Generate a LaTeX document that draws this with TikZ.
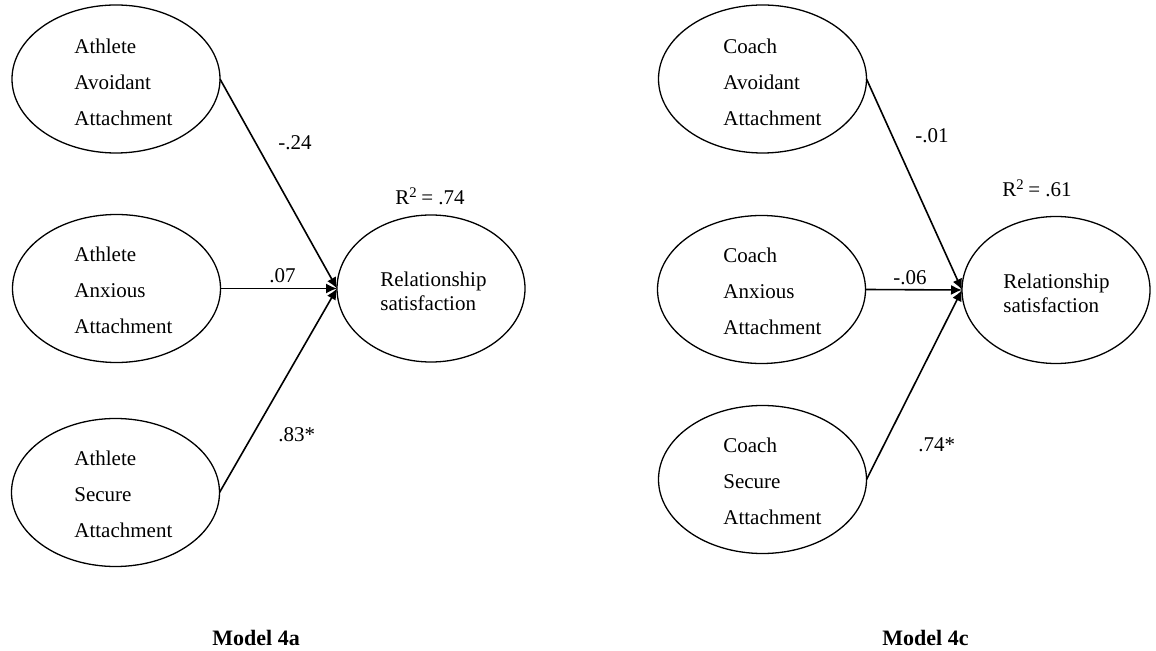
\documentclass[tikz,border=0pt]{standalone}
\usepackage{fontspec}
\setmainfont{Liberation Serif}
\usetikzlibrary{shapes.geometric,arrows.meta}

\tikzset{
	latent/.style={draw,ellipse,line width=0.65pt,minimum width=104pt,minimum height=74pt,inner sep=0pt,outer sep=0pt},
	outcome/.style={latent,minimum width=94pt,minimum height=73.5pt},
	vartext/.style={anchor=west,align=left,inner sep=0pt,font=\fontsize{10.5pt}{18pt}\selectfont},
	outtext/.style={vartext,font=\fontsize{10.5pt}{12pt}\selectfont},
	coef/.style={anchor=base west,inner sep=0pt,font=\fontsize{10.5pt}{12pt}\selectfont},
	title/.style={anchor=base west,inner sep=0pt,font=\fontsize{11pt}{13pt}\selectfont\bfseries},
	regline/.style={line width=0.8pt,-{Latex[length=5.5pt,width=5pt]}},
}

\begin{document}
\begin{tikzpicture}[x=0.5pt,y=-0.5pt]
				\useasboundingbox (0,0) rectangle (1156,651);
				
				% Model 4a
				\node[latent] (aav) at (116,79) {};
				\node[latent] (aan) at (116.5,288.5) {};
				\node[latent] (ase) at (115.5,492.5) {};
				\node[outcome] (rsa) at (431,288.5) {};
				
				\node[vartext] (aavt) at (74,82) {Athlete\\Avoidant\\Attachment};
				\node[vartext] (aant) at (74,290.5) {Athlete\\Anxious\\Attachment};
				\node[vartext] (aset) at (74,494.5) {Athlete\\Secure\\Attachment};
				\node[outtext] (rsat) at (380,291) {Relationship\\satisfaction};
				\node[coef] (rsqa) at (395,205) {R\textsuperscript{2}\,= .74};
				
				\draw[regline] (aav.east) -- (rsa.west);
				\draw[regline] (aan.east) -- (rsa.west);
				\draw[regline] (ase.east) -- (rsa.west);
				
				\node[coef] (ca1) at (278,150) {-.24};
				\node[coef] (ca2) at (269,283) {.07};
				\node[coef] (ca3) at (278,442) {.83*};
				
				\node[title] (ma) at (212,645) {Model 4a};
				
				% Model 4c
				\node[latent] (cav) at (762.5,79) {};
				\node[latent] (can) at (761.5,289.5) {};
				\node[latent] (cse) at (762.5,479.5) {};
				\node[outcome] (rsc) at (1056,290) {};
				
				\node[vartext] (cavt) at (723,82) {Coach\\Avoidant\\Attachment};
				\node[vartext] (cant) at (723,291.5) {Coach\\Anxious\\Attachment};
				\node[vartext] (cset) at (723,481.5) {Coach\\Secure\\Attachment};
				\node[outtext] (rsct) at (1003,293) {Relationship\\satisfaction};
				\node[coef] (rsqc) at (1002,197) {R\textsuperscript{2}\,= .61};
				
				\draw[regline] (cav.east) -- (rsc.west);
				\draw[regline] (can.east) -- (rsc.west);
				\draw[regline] (cse.east) -- (rsc.west);
				
				\node[coef] (cc1) at (915,143) {-.01};
				\node[coef] (cc2) at (893,285) {-.06};
				\node[coef] (cc3) at (918,452) {.74*};
				
				\node[title] (mc) at (882,645) {Model 4c};
			\end{tikzpicture}
\end{document}
